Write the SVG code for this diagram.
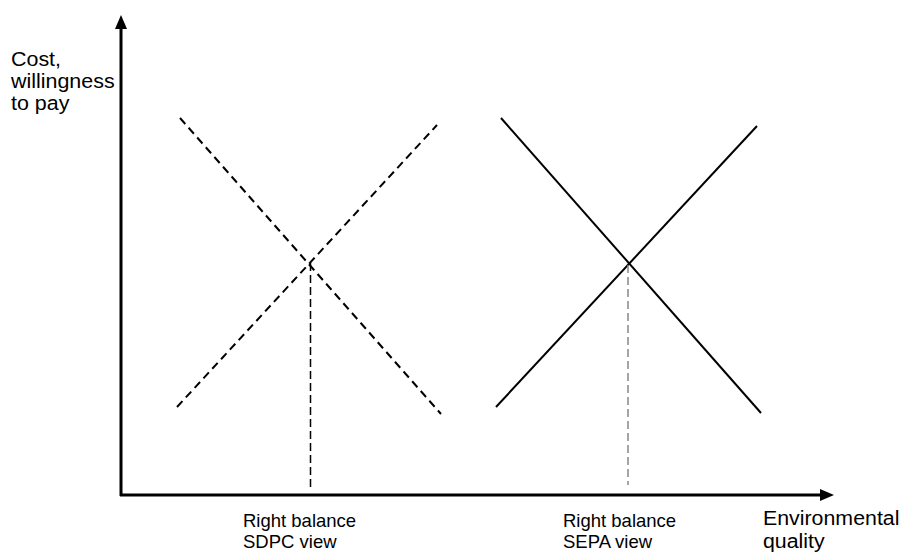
<svg xmlns="http://www.w3.org/2000/svg" width="901" height="558" viewBox="0 0 901 558">
<style>
text{font-family:"Liberation Sans",Arial,sans-serif;fill:#000}
.lbl{font-size:19.5px}
.small{font-size:18.5px}
.axis{stroke:#000;stroke-width:3;fill:none}
.dash{stroke:#000;stroke-width:2;stroke-dasharray:8 5;fill:none}
.solid{stroke:#000;stroke-width:2;fill:none}
.vl{stroke:#000;stroke-width:1.5;stroke-dasharray:8 4;fill:none}
.vr{stroke:#888;stroke-width:1.5;stroke-dasharray:8 4;fill:none}
</style>
<rect width="901" height="558" fill="#fff"/>
<g id="connectors">
<line class="axis" x1="121" y1="28" x2="121" y2="496"/>
<polygon points="121,15 115,29 127,29" fill="#000"/>
<line class="axis" x1="120" y1="495" x2="821" y2="495"/>
<polygon points="834,495 820,489 820,501" fill="#000"/>
<line class="dash" x1="180" y1="118" x2="441" y2="414"/>
<line class="dash" x1="177" y1="407" x2="437" y2="125"/>
<line class="vl" x1="310.5" y1="263" x2="310.5" y2="487"/>
<line class="solid" x1="501" y1="118" x2="761" y2="413"/>
<line class="solid" x1="496" y1="407" x2="757" y2="126"/>
<line class="vr" x1="628" y1="265" x2="628" y2="485"/>
</g>
<g id="y-label" transform="translate(11,0) scale(1.1,1)">
<text class="lbl" x="0" y="66">Cost,</text>
<text class="lbl" x="0" y="88">willingness</text>
<text class="lbl" x="0" y="110">to pay</text>
</g>
<g id="x-label" transform="translate(763,0) scale(1.095,1)">
<text class="lbl" x="0" y="525">Environmental</text>
<text class="lbl" x="0" y="548">quality</text>
</g>
<g id="sdpc">
<text class="small" x="243" y="527">Right balance</text>
<text class="small" x="243" y="548">SDPC view</text>
</g>
<g id="sepa">
<text class="small" x="563" y="527">Right balance</text>
<text class="small" x="563" y="548">SEPA view</text>
</g>
</svg>
